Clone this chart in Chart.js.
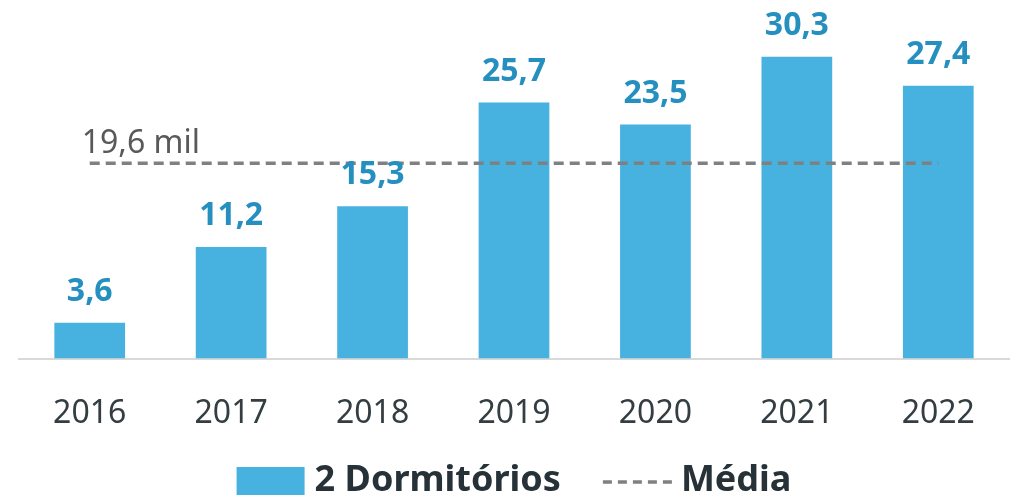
<!DOCTYPE html>
<html lang="pt">

<head>
    <meta charset="UTF-8">
    <title>2 Dormitórios</title>
    <script src="https://cdn.jsdelivr.net/npm/chart.js"></script>
    <style>
        body { margin: 0; background: #fff; }
        #wrap { width: 1015px; height: 500px; }
    </style>
</head>

<body>
    <div id="wrap"><canvas id="myChart" width="1015" height="500"></canvas></div>

    <script>
        // data (mil unidades)
        var years = ['2016', '2017', '2018', '2019', '2020', '2021', '2022'];
        var values = [3.6, 11.2, 15.3, 25.7, 23.5, 30.3, 27.4];
        var average = 19.6;
        var averageLabel = '19,6 mil';
        var seriesName = '2 Dormitórios';
        var averageName = 'Média';

        var barColor = '#47b1e0';
        var valueColor = '#2590c0';
        var lineColor = '#808080';
        var fontName = "'Noto Sans', sans-serif";

        function fmt(v) {
            return v.toFixed(1).replace('.', ',');
        }

        // numbers above the bars + label of the average line
        var labelsPlugin = {
            id: 'labels',
            afterDatasetsDraw: function (chart) {
                var ctx = chart.ctx;
                var meta = chart.getDatasetMeta(1);
                ctx.save();
                ctx.font = 'bold 32px ' + fontName;
                ctx.fillStyle = valueColor;
                ctx.textAlign = 'center';
                ctx.textBaseline = 'alphabetic';
                meta.data.forEach(function (bar, i) {
                    ctx.fillText(fmt(values[i]), bar.x, bar.y - 22);
                });

                var x0 = chart.scales.x.getPixelForValue(0);
                var yAvg = chart.scales.y.getPixelForValue(average);
                ctx.font = '32px ' + fontName;
                ctx.fillStyle = '#595959';
                ctx.textAlign = 'left';
                ctx.fillText(averageLabel, x0 - 8, yAvg - 10);
                ctx.restore();
            }
        };

        // legend at the bottom
        var legendPlugin = {
            id: 'myLegend',
            afterDraw: function (chart) {
                var ctx = chart.ctx;
                var area = chart.chartArea;
                ctx.save();
                ctx.font = 'bold 36px ' + fontName;
                var w1 = ctx.measureText(seriesName).width;
                var w2 = ctx.measureText(averageName).width;
                var total = 68 + 10 + w1 + 42 + 72 + 6 + w2;
                var x = (area.left + area.right) / 2 - total / 2;
                var y = 481;

                ctx.fillStyle = barColor;
                ctx.fillRect(x, y - 14, 68, 28);
                x += 78;
                ctx.fillStyle = '#263238';
                ctx.textBaseline = 'middle';
                ctx.fillText(seriesName, x, y);
                x += w1 + 42;

                ctx.strokeStyle = lineColor;
                ctx.lineWidth = 3.5;
                ctx.setLineDash([9, 6]);
                ctx.beginPath();
                ctx.moveTo(x, y + 1);
                ctx.lineTo(x + 72, y + 1);
                ctx.stroke();
                x += 78;
                ctx.fillText(averageName, x, y);
                ctx.restore();
            }
        };

        var ctx = document.getElementById('myChart').getContext('2d');
        var myChart = new Chart(ctx, {
            data: {
                labels: years,
                datasets: [{
                    type: 'line',
                    label: averageName,
                    data: years.map(function () { return average; }),
                    borderColor: lineColor,
                    borderWidth: 3.5,
                    borderDash: [10, 6],
                    pointRadius: 0,
                    fill: false,
                    order: 0
                }, {
                    type: 'bar',
                    label: seriesName,
                    data: values,
                    backgroundColor: barColor,
                    barPercentage: 0.5,
                    categoryPercentage: 1,
                    order: 1
                }]
            },
            options: {
                responsive: false,
                animation: false,
                layout: {
                    padding: { left: 19, right: 6, top: 0, bottom: 39 }
                },
                plugins: {
                    legend: { display: false },
                    tooltip: { enabled: false }
                },
                scales: {
                    x: {
                        grid: { display: false },
                        border: { display: true, color: '#d9d9d9', width: 2 },
                        ticks: {
                            color: '#333d42',
                            padding: 28,
                            font: { family: fontName, size: 32 }
                        }
                    },
                    y: {
                        display: false,
                        min: 0,
                        max: 36
                    }
                }
            },
            plugins: [labelsPlugin, legendPlugin]
        });
    </script>
</body>

</html>
